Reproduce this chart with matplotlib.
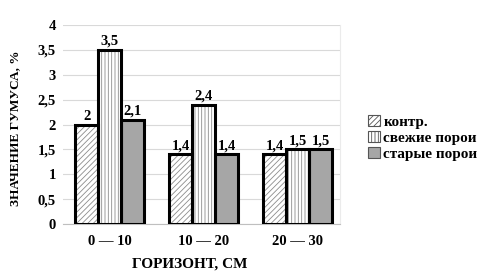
import matplotlib
matplotlib.use("Agg")
import matplotlib.pyplot as plt
import numpy as np

plt.rcParams['font.family'] = ['Liberation Serif', 'DejaVu Serif']
plt.rcParams['font.weight'] = 'bold'
plt.rcParams['hatch.linewidth'] = 0.6

categories = ['0 — 10', '10 — 20', '20 — 30']
series_names = ['контр.', 'свежие порои', 'старые порои']
kontr = [2.0, 1.4, 1.4]
svezhie = [3.5, 2.4, 1.5]
starye = [2.1, 1.4, 1.5]
labels_kontr = ['2', '1,4', '1,4']
labels_svezhie = ['3,5', '2,4', '1,5']
labels_starye = ['2,1', '1,4', '1,5']
yticks = [0, 0.5, 1, 1.5, 2, 2.5, 3, 3.5, 4]
ytick_labels = ['0', '0,5', '1', '1,5', '2', '2,5', '3', '3,5', '4']

fig = plt.figure(figsize=(4.79, 2.78), dpi=100)
ax = fig.add_axes([63/479, 1-224/278, (340-63)/479, (224-25)/278])

x = np.arange(len(categories))
w = 0.245
fills = ['white', 'white', '#a6a6a6']
hatches = ['//////', '|||||', None]
data = [kontr, svezhie, starye]
labs = [labels_kontr, labels_svezhie, labels_starye]
handles = []
for i, (vals, fc, ht, lb) in enumerate(zip(data, fills, hatches, labs)):
    # hatch layer in gray
    ax.bar(x + (i-1)*w, vals, w, facecolor=fc, edgecolor='#8c8c8c', hatch=ht,
           linewidth=0, zorder=3)
    bars = ax.bar(x + (i-1)*w, vals, w, facecolor='none', edgecolor='black',
                  linewidth=2.2, zorder=4)
    for b, t in zip(bars, lb):
        ax.text(b.get_x() + b.get_width()/2, b.get_height() + 0.04, t,
                ha='center', va='bottom', fontsize=10.5, fontweight='bold', zorder=5)
    handles.append(plt.Rectangle((0, 0), 1, 1, facecolor=fc, edgecolor='#555555',
                                 hatch=ht, linewidth=0.8))

ax.set_xlim(-0.5, 2.45)
ax.set_ylim(0, 4)
ax.set_yticks(yticks)
ax.set_yticklabels(ytick_labels, fontsize=10.5, fontweight='bold')
ax.set_xticks(x)
ax.set_xticklabels(categories, fontsize=10.5, fontweight='bold')
ax.tick_params(axis='y', length=0, pad=5)
ax.tick_params(axis='x', length=0, pad=8)
ax.grid(axis='y', color='#d9d9d9', linewidth=0.8, zorder=0)
for s in ['top', 'left']:
    ax.spines[s].set_visible(False)
ax.spines['right'].set_color('#ebebeb')
ax.spines['right'].set_linewidth(0.8)
ax.spines['bottom'].set_color('#bfbfbf')
ax.set_axisbelow(True)

fig.text(15/479, 1-128/278, 'ЗНАЧЕНИЕ ГУМУСА, %', rotation=90, ha='center', va='center',
         fontsize=9.5, fontweight='bold')
fig.text(190/479, 1-264/278, 'ГОРИЗОНТ, СМ', ha='center', va='center',
         fontsize=11, fontweight='bold')

fig.legend(handles, series_names, loc='center left', bbox_to_anchor=(362/479, 1-138/278),
           frameon=False, fontsize=11, handlelength=0.75, handleheight=0.75,
           handletextpad=0.25, labelspacing=0.15, borderaxespad=0)

fig.savefig('out.png', dpi=100)
